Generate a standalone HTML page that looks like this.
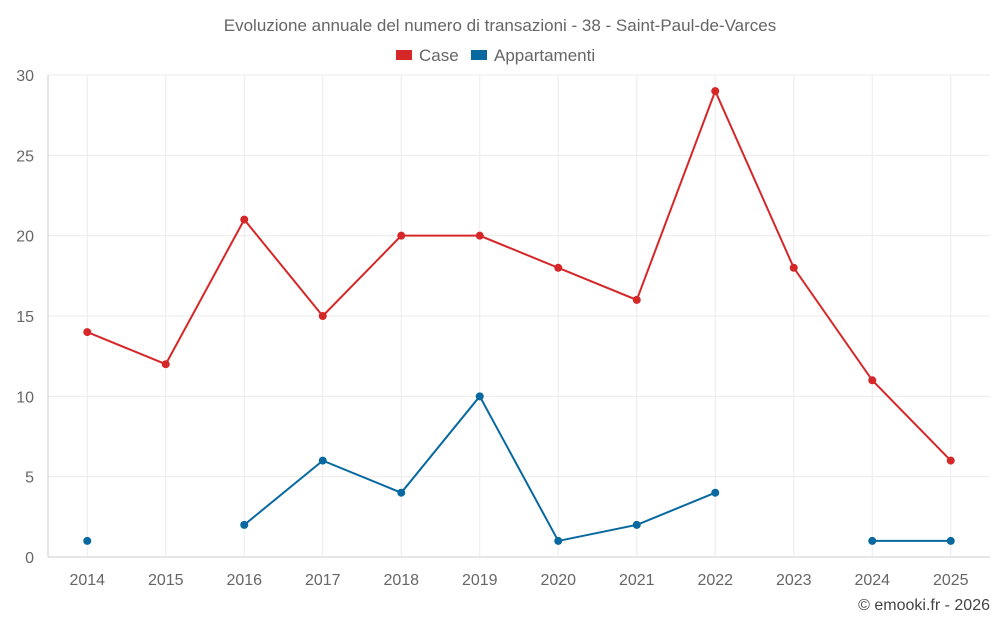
<!DOCTYPE html>
<html><head><meta charset="utf-8"><style>
body{margin:0;background:#fff;font-family:"Liberation Sans",sans-serif}
svg text{font-family:"Liberation Sans",sans-serif;fill:#666}
</style></head><body>
<svg id="chart" width="1000" height="625" viewBox="0 0 1000 625" xmlns="http://www.w3.org/2000/svg">
<text x="500" y="31" font-size="17" text-anchor="middle">Evoluzione annuale del numero di transazioni - 38 - Saint-Paul-de-Varces</text>
<g><rect x="396" y="50" width="16" height="10" fill="#d62728"/><text x="419" y="61" font-size="17">Case</text></g>
<g><rect x="471" y="50" width="16" height="10" fill="#0868a0"/><text x="494" y="61" font-size="17">Appartamenti</text></g>
<g id="grid"></g><g id="axes"></g><g id="series"></g>
<text x="990" y="610" font-size="16" text-anchor="end" style="fill:#444">© emooki.fr - 2026</text>
</svg>
<script>
const years=["2014","2015","2016","2017","2018","2019","2020","2021","2022","2023","2024","2025"];
const caseVals=[14,12,21,15,20,20,18,16,29,18,11,6];
const aptVals=[1,null,2,6,4,10,1,2,4,null,1,1];
const yTicks=[0,5,10,15,20,25,30];
const L=48,R=990,T=75,B=557,yMax=30;
const bw=(R-L)/years.length;
const xS=i=>L+bw*(i+0.5);
const yS=v=>B-(v/yMax)*(B-T);
const NS="http://www.w3.org/2000/svg";
function mk(tag,attrs,parent){const e=document.createElementNS(NS,tag);for(const k in attrs)e.setAttribute(k,attrs[k]);parent.appendChild(e);return e;}
const grid=document.getElementById('grid'),axes=document.getElementById('axes'),ser=document.getElementById('series');
yTicks.forEach(t=>{
 const l=mk('line',{x1:L,x2:R,y1:yS(t),y2:yS(t),stroke:t===0?'#ccc':'#ebebeb'},grid);
 
 
 const tx=mk('text',{x:L-14,y:yS(t)+6,'font-size':16,'text-anchor':'end'},axes);
 tx.textContent=t;
 
 
});
const ax=mk('line',{x1:L,x2:L,y1:T,y2:B,stroke:'#ccc'},grid);


years.forEach((y,i)=>{
 const l=mk('line',{x1:xS(i),x2:xS(i),y1:T,y2:B,stroke:'#ebebeb'},grid);
 
 
 const tx=mk('text',{x:xS(i),y:585,'font-size':16,'text-anchor':'middle'},axes);
 tx.textContent=y;
 
 
});
function drawSeries(vals,color,name){
 let seg=[];const segs=[];
 vals.forEach((v,i)=>{if(v===null){if(seg.length)segs.push(seg);seg=[];}else seg.push([xS(i),yS(v)]);});
 if(seg.length)segs.push(seg);
 segs.forEach(s=>{if(s.length>1){
  const p=mk('polyline',{points:s.map(q=>q.join(',')).join(' '),fill:'none',stroke:color,'stroke-width':2},ser);
  
  
 }});
 vals.forEach((v,i)=>{if(v===null)return;
  const c=mk('circle',{cx:xS(i),cy:yS(v),r:4,fill:color},ser);
  
  
 });
}
drawSeries(caseVals,'#d62728','case');
drawSeries(aptVals,'#0868a0','appartamenti');
</script>
</body></html>
